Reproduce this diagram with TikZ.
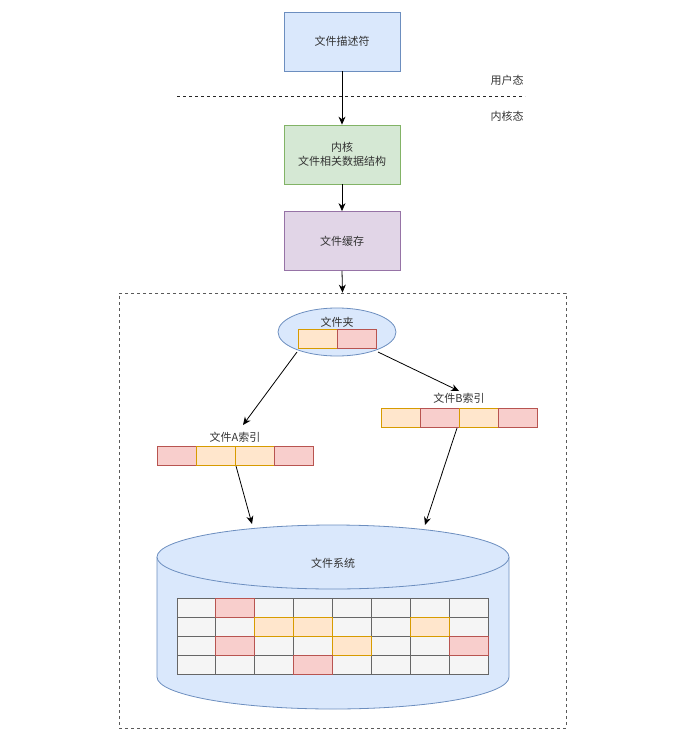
\documentclass[tikz,border=0pt]{standalone}
\usepackage{fontspec}
\setmainfont{Noto Sans CJK SC}
\usetikzlibrary{arrows.meta,shapes.geometric}
\definecolor{bfill}{HTML}{DAE8FC}\definecolor{bline}{HTML}{6C8EBF}
\definecolor{gfill}{HTML}{D5E8D4}\definecolor{gline}{HTML}{82B366}
\definecolor{pfill}{HTML}{E1D5E7}\definecolor{pline}{HTML}{9673A6}
\definecolor{ofill}{HTML}{FFE6CC}\definecolor{oline}{HTML}{D79B00}
\definecolor{rfill}{HTML}{F8CECC}\definecolor{rline}{HTML}{B85450}
\definecolor{cfill}{HTML}{F5F5F5}\definecolor{cline}{HTML}{666666}
\definecolor{txt}{HTML}{333333}
\begin{document}
\begin{tikzpicture}[x=1pt,y=-1pt,
  every node/.style={font=\fontsize{11}{14}\selectfont, text=txt, inner sep=0pt},
  bigbox/.style={draw, minimum width=116pt, minimum height=59pt, line width=0.8pt, align=center},
  cellbase/.style={draw, minimum width=38.9pt, minimum height=19pt, line width=0.8pt},
  ocell/.style={cellbase, fill=ofill, draw=oline},
  rcell/.style={cellbase, fill=rfill, draw=rline},
  gcell/.style={cellbase, fill=cfill, draw=cline},
  arr/.style={-{Stealth[length=8pt,width=7pt]}, line width=0.8pt, black}]
\useasboundingbox (0,0) rectangle (675,743);
% top boxes
\node[bigbox, fill=bfill, draw=bline] (fd) at (342,41.5) {文件描述符};
\node[bigbox, fill=gfill, draw=gline] (kern) at (342,154.5) {内核\\文件相关数据结构};
\node[bigbox, fill=pfill, draw=pline] (cache) at (342,241) {文件缓存};
% user / kernel split
\coordinate (sl) at (177,96);
\coordinate (sr) at (525,96);
\draw[dashed, line width=0.8pt, black!85] (sl) -- (sr);
\node (user) at (507,80) {用户态};
\node (kernl) at (507,116) {内核态};
% container
\node[draw=black!65, dashed, line width=0.8pt, minimum width=447pt, minimum height=435pt] (cont) at (342.5,510.5) {};
\draw[arr] (fd.south) -- (kern.north);
\draw[arr] (kern.south) -- (cache.north);
\draw[arr] (cache.south) -- (cont.north);
% folder
\node[ellipse, draw=bline, fill=bfill, line width=0.8pt, minimum width=118pt, minimum height=48pt] (folder) at (337,332) {};
\node (foldert) at (337,322) {文件夹};
\node[ocell] (f1) at (317.5,339) {};
\node[rcell] (f2) at (356.5,339) {};
% index B
\node (blabel) at (459,398) {文件B索引};
\node[ocell] (b1) at (400.5,417.5) {};
\node[rcell] (b2) at (439.5,417.5) {};
\node[ocell] (b3) at (478.5,417.5) {};
\node[rcell] (b4) at (517.5,417.5) {};
% index A
\node (alabel) at (235,437) {文件A索引};
\node[rcell] (a1) at (176.5,456) {};
\node[ocell] (a2) at (215.5,456) {};
\node[ocell] (a3) at (254.5,456) {};
\node[rcell] (a4) at (293.5,456) {};
% arrows folder -> index
\coordinate (atip) at (243,425);
\coordinate (btip) at (459,391);
\coordinate (fsa) at (297,352);
\coordinate (fsb) at (378,352);
\draw[arr] (fsa) -- (atip);
\draw[arr] (fsb) -- (btip);
% cylinder
\coordinate (cyl) at (157,557);
\fill[bfill] (157,557) -- (157,677) arc[start angle=180, end angle=0, x radius=176, y radius=32] -- (509,557) -- cycle;
\draw[bline, line width=0.8pt] (157,557) -- (157,677) arc[start angle=180, end angle=0, x radius=176, y radius=32] -- (509,557);
\node[ellipse, draw=bline, fill=bfill, line width=0.8pt, minimum width=352pt, minimum height=64pt] (fs) at (333,557) {};
\node (fst) at (333,563) {文件系统};
% arrows index -> fs
\coordinate (aS) at (236,466);
\coordinate (aE) at (252,524);
\coordinate (bS) at (457,428);
\coordinate (bE) at (425,525);
\draw[arr] (aS) -- (aE);
\draw[arr] (bS) -- (bE);
% grid
\foreach \r in {1,...,4}{
  \foreach \c in {1,...,8}{
    \node[gcell] (g\r-\c) at ({177+38.875*(\c-0.5)},{598+19*(\r-0.5)}) {};
  }
}
\node[rcell] (h12) at (g1-2) {};
\node[ocell] (h23) at (g2-3) {};
\node[ocell] (h24) at (g2-4) {};
\node[ocell] (h27) at (g2-7) {};
\node[rcell] (h32) at (g3-2) {};
\node[ocell] (h35) at (g3-5) {};
\node[rcell] (h38) at (g3-8) {};
\node[rcell] (h44) at (g4-4) {};
\end{tikzpicture}
\end{document}
